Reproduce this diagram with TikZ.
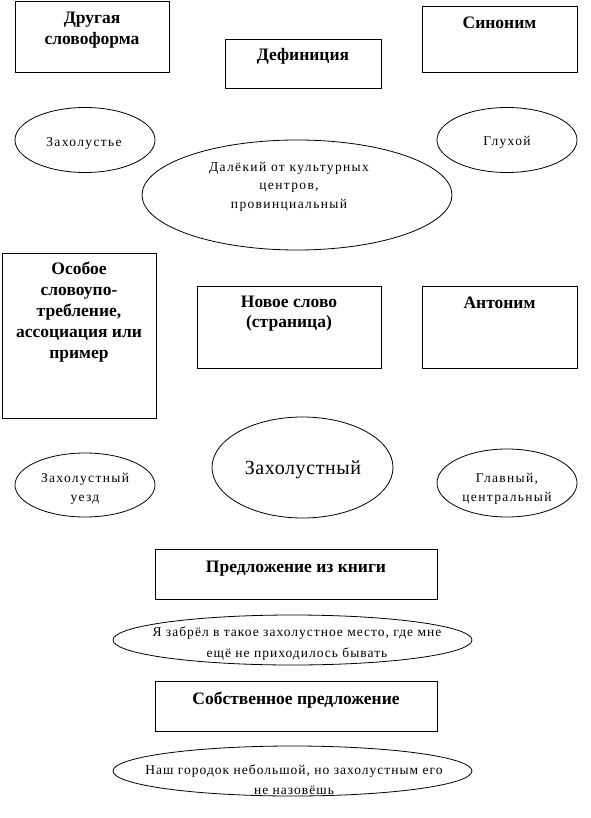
\documentclass[tikz,border=0pt]{standalone}
\usepackage{fontspec}
\setmainfont{Liberation Serif}
\usetikzlibrary{shapes.geometric}
\begin{document}
\begin{tikzpicture}[x=1pt,y=-1pt,
  box/.style={draw, line width=0.8pt, rectangle, inner sep=0pt},
  oval/.style={draw, line width=0.8pt, ellipse, inner sep=0pt},
  head/.style={font=\fontsize{17.5}{20.5}\selectfont\bfseries, align=center, inner sep=0pt},
  small/.style={font=\fontsize{13.5}{19}\selectfont\addfontfeature{LetterSpace=10}, align=center, inner sep=0pt},
  sent/.style={font=\fontsize{13.5}{21}\selectfont\addfontfeature{LetterSpace=7.5}, align=center, inner sep=0pt},
  big/.style={font=\fontsize{20}{22}\selectfont\addfontfeature{LetterSpace=3}, align=center, inner sep=0pt}]
\useasboundingbox (0,0) rectangle (590,818);
\fill[white] (0,0) rectangle (590,818);
% boxes
\node[box, minimum width=154pt, minimum height=71pt] (b1) at (92,36.5) {};
\node[head] (t1) at (92,30) {Другая\\словоформа};
\node[box, minimum width=156pt, minimum height=49pt] (b2) at (303,63.5) {};
\node[head] (t2) at (303,56.5) {Дефиниция};
\node[box, minimum width=155pt, minimum height=66pt] (b3) at (499.5,39) {};
\node[head] (t3) at (499.5,23) {Синоним};
\node[box, minimum width=154pt, minimum height=165pt] (b7) at (79,335.5) {};
\node[head, font=\fontsize{17.5}{21}\selectfont\bfseries] (t7) at (79,312) {Особое\\словоупо-\\требление,\\ассоциация или\\пример};
\node[box, minimum width=184pt, minimum height=82pt] (b8) at (289,327) {};
\node[head] (t8) at (289,313.5) {Новое слово\\(страница)};
\node[box, minimum width=155pt, minimum height=82pt] (b9) at (499.5,327) {};
\node[head] (t9) at (499.5,303) {Антоним};
\node[box, minimum width=282pt, minimum height=50pt] (b13) at (296,574) {};
\node[head] (t13) at (296,569) {Предложение из книги};
\node[box, minimum width=282pt, minimum height=50pt] (b15) at (296,706) {};
\node[head] (t15) at (296,700) {Собственное предложение};
% ellipses
\node[oval, minimum width=140pt, minimum height=65pt] (e1) at (85,140) {};
\node[small] (s1) at (84,143) {Захолустье};
\node[oval, minimum width=140pt, minimum height=65pt] (e2) at (507,140) {};
\node[small] (s2) at (507,142) {Глухой};
\node[oval, minimum width=310pt, minimum height=110pt] (e3) at (297,195) {};
\node[small, font=\fontsize{13.5}{18.5}\selectfont\addfontfeature{LetterSpace=10}] (s3) at (289,186.5) {Далёкий от культурных\\центров,\\провинциальный};
\node[oval, minimum width=181pt, minimum height=101pt] (e4) at (302.5,467.5) {};
\node[big] (s4) at (303,470) {Захолустный};
\node[oval, minimum width=140pt, minimum height=64pt] (e5) at (85,485) {};
\node[small] (s5) at (85,489) {Захолустный\\уезд};
\node[oval, minimum width=140pt, minimum height=68pt] (e6) at (507,483) {};
\node[small] (s6) at (507,488.5) {Главный,\\центральный};
\node[oval, minimum width=359pt, minimum height=50pt] (e7) at (292.5,640) {};
\node[sent] (s7) at (297,644) {Я забрёл в такое захолустное место, где мне\\ещё не приходилось бывать};
\node[oval, minimum width=359pt, minimum height=50pt] (e8) at (292.5,771) {};
\node[sent, font=\fontsize{13.5}{20}\selectfont\addfontfeature{LetterSpace=7.5}] (s8) at (294,780) {Наш городок небольшой, но захолустным его\\не назовёшь};
\end{tikzpicture}
\end{document}
